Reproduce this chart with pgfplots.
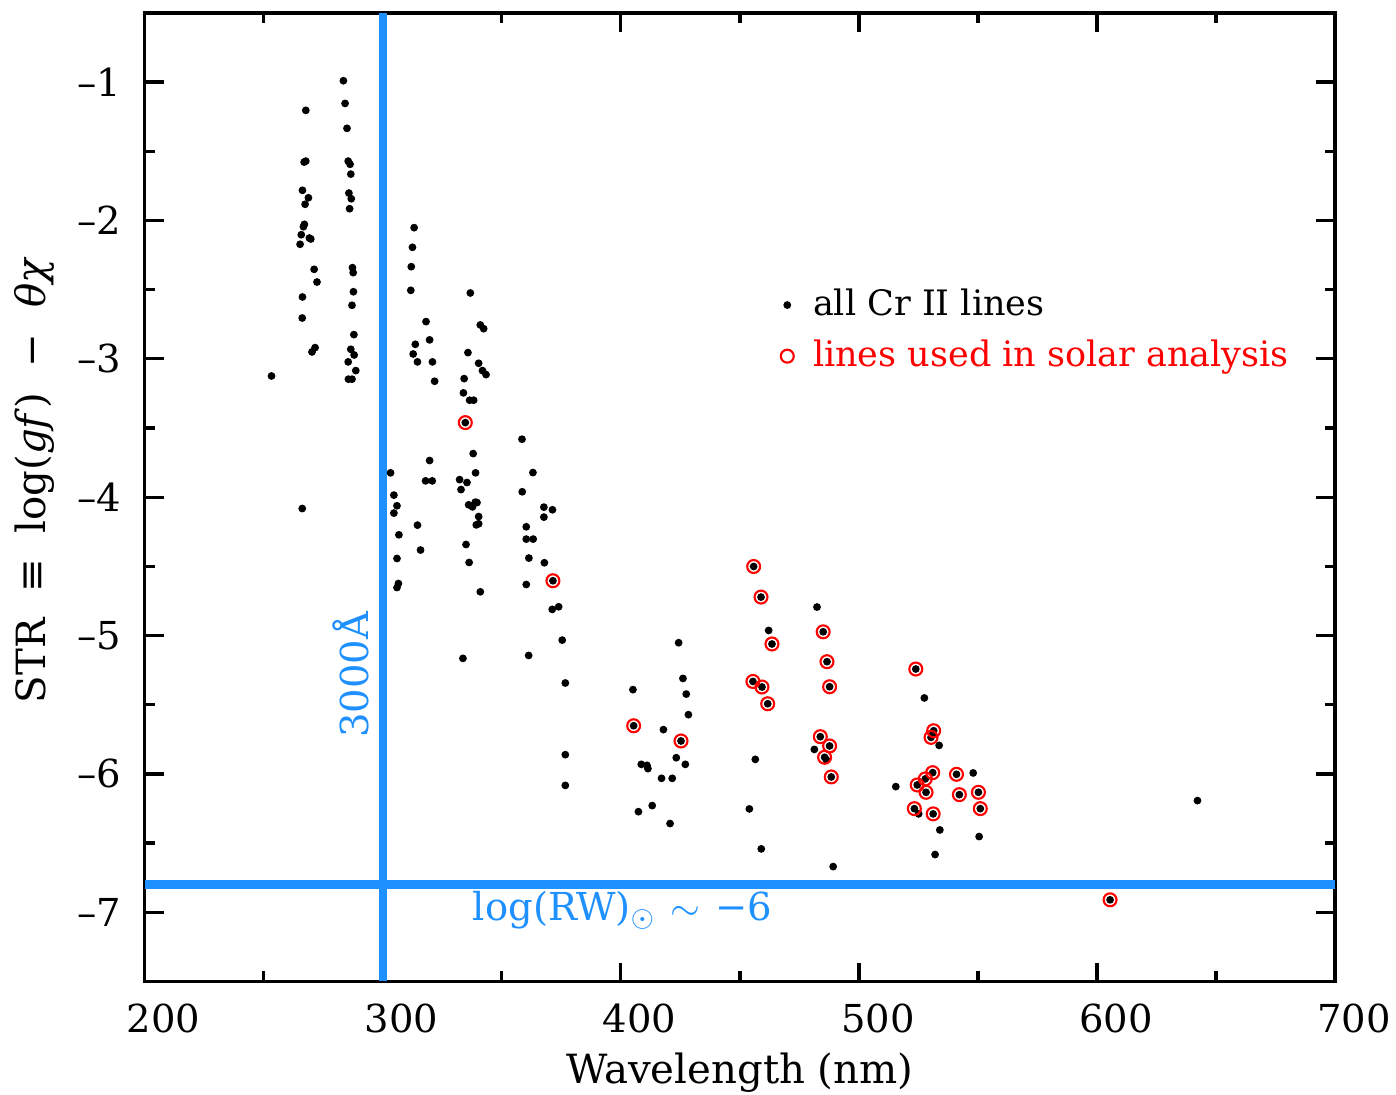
\documentclass[border=0pt]{standalone}
\usepackage{fontspec}
\setmainfont{DejaVu Serif}
\usepackage{pgfplots}
\pgfplotsset{compat=1.18}
\definecolor{dodger}{RGB}{30,144,255}

\begin{document}
\begin{tikzpicture}
\begin{axis}[
    scale only axis,
    width=340pt, height=276.6pt,
    xmin=200, xmax=700, ymin=-7.5, ymax=-0.5,
    axis line style={line width=0.95pt},
    major tick style={line width=0.95pt, black},
    minor tick style={line width=0.95pt, black},
    tick align=inside,
    major tick length=5.4pt, minor tick length=2.9pt,
    xtick={200,300,400,500,600,700},
    xticklabels={200,300,400,500,600,700},
    minor xtick={250,350,450,550,650},
    ytick={-7,-6,-5,-4,-3,-2,-1},
    yticklabels={--7,--6,--5,--4,--3,--2,--1},
    minor ytick={-6.5,-5.5,-4.5,-3.5,-2.5,-1.5},
    xticklabel style={font=\fontsize{11}{13}\selectfont, inner sep=0pt, anchor=center, yshift=-10.6pt, xshift=5.4pt},
    yticklabel style={font=\fontsize{11}{13}\selectfont, inner sep=0pt, anchor=east, xshift=-6.6pt},
    xlabel={Wavelength (nm)},
    ylabel={STR\ \ ≡\ \ log(\textit{gf})\ \ −\ \ \textit{θχ}},
    x label style={font=\fontsize{11.5}{13}\selectfont, at={(axis description cs:0.5,0)}, anchor=center, yshift=-26pt},
    y label style={font=\fontsize{11.5}{13}\selectfont, at={(axis description cs:-0.0924,0.5176)}, anchor=center},
    clip mode=individual,
    legend style={draw=none, fill=none, font=\fontsize{10}{12}\selectfont,
        at={(0.525,0.672)}, anchor=west, row sep=1.5pt},
    legend cell align=left,
]
% blue reference lines
\addplot[dodger, line width=2.4pt, forget plot] coordinates {(200,-6.8) (700,-6.8)};
\addplot[dodger, line width=2.4pt, forget plot] coordinates {(300,-7.5) (300,-0.5)};

% all Cr II lines
\addplot[only marks, mark=*, mark size=0.9pt, black] coordinates {
(283.5,-0.99) (284.2,-1.154) (267.7,-1.204) (285.0,-1.334) (267.0,-1.578)
(267.7,-1.571) (285.5,-1.571) (286.3,-1.594) (286.6,-1.665) (266.3,-1.782)
(268.8,-1.836) (267.4,-1.883) (285.8,-1.802) (286.8,-1.843) (286.1,-1.915)
(267.1,-2.028) (266.7,-2.045) (265.8,-2.103) (269.2,-2.127) (269.8,-2.134)
(265.3,-2.172) (271.2,-2.353) (272.4,-2.445) (266.3,-2.553) (266.2,-2.705)
(270.3,-2.950) (271.6,-2.919) (287.3,-2.341) (287.6,-2.377) (287.7,-2.515)
(287.1,-2.613) (287.9,-2.825) (286.6,-2.931) (288.0,-2.972) (285.5,-3.022)
(288.7,-3.085) (285.6,-3.147) (287.1,-3.147) (253.3,-3.124)
(313.2,-2.052) (312.5,-2.194) (312.0,-2.334) (311.8,-2.505) (336.8,-2.524)
(318.2,-2.731) (319.7,-2.863) (313.7,-2.895) (312.8,-2.965) (314.6,-3.022)
(320.9,-3.022) (321.8,-3.162) (341.0,-2.755) (342.4,-2.782) (335.8,-2.955)
(340.3,-3.032) (341.9,-3.085) (343.4,-3.114) (334.2,-3.143) (333.9,-3.246)
(336.5,-3.299) (338.2,-3.299)
(266.2,-4.082) (303.3,-3.824) (304.7,-3.985) (306.0,-4.062) (304.7,-4.115)
(306.8,-4.272) (306.0,-4.443) (306.0,-4.653) (306.6,-4.624) (314.6,-4.202)
(315.9,-4.382) (319.7,-3.735) (318.0,-3.882) (320.8,-3.882) (334.7,-3.461)
(338.0,-3.685) (339.0,-3.824) (332.3,-3.873) (335.4,-3.894) (332.9,-3.945)
(336.1,-4.055) (337.7,-4.070) (338.9,-4.036) (339.6,-4.039) (340.3,-4.140)
(339.3,-4.200) (340.3,-4.192) (335.0,-4.342) (336.3,-4.472) (341.0,-4.684)
(333.7,-5.165)
(358.5,-3.581) (363.1,-3.822) (358.6,-3.961) (367.7,-4.072) (371.3,-4.091)
(367.7,-4.144) (360.3,-4.214) (360.3,-4.303) (363.2,-4.303) (361.4,-4.440)
(367.9,-4.474) (360.3,-4.631) (371.5,-4.604) (371.2,-4.811) (373.9,-4.792)
(375.4,-5.033) (361.3,-5.144) (376.7,-5.343) (376.7,-5.861) (376.7,-6.083)
(424.3,-5.052) (426.1,-5.310) (427.5,-5.423) (428.4,-5.572) (405.1,-5.391)
(405.4,-5.652) (417.9,-5.680) (425.3,-5.762) (423.3,-5.883) (427.1,-5.931)
(408.6,-5.931) (411.0,-5.938) (411.4,-5.962) (417.1,-6.032) (421.6,-6.032)
(407.4,-6.273) (413.2,-6.229) (420.7,-6.359)
(455.8,-4.501) (458.9,-4.722) (482.4,-4.794) (462.1,-4.963) (485.0,-4.973)
(463.5,-5.061) (486.6,-5.189) (455.5,-5.332) (459.3,-5.372) (487.7,-5.370)
(461.7,-5.493) (483.8,-5.731) (487.7,-5.798) (481.3,-5.823) (485.6,-5.880)
(486.3,-5.897) (488.4,-6.022) (456.5,-5.895) (454.0,-6.253) (459.0,-6.542)
(489.2,-6.670)
(523.9,-5.242) (527.5,-5.451) (531.4,-5.688) (530.3,-5.736) (531.0,-5.712)
(533.7,-5.794) (531.0,-5.991) (541.0,-6.003) (548.0,-5.993) (527.9,-6.036)
(524.5,-6.080) (515.5,-6.092) (528.2,-6.133) (542.2,-6.150) (550.2,-6.133)
(551.0,-6.251) (523.3,-6.251) (525.1,-6.289) (531.2,-6.289) (534.0,-6.405)
(550.5,-6.453) (532.0,-6.583)
(642.2,-6.193) (605.5,-6.910)
};
\addlegendentry{\hspace{3.5pt}all Cr II lines}

% lines used in solar analysis
\addplot[only marks, mark=o, mark size=1.85pt, red, mark options={line width=0.6pt}] coordinates {
(334.7,-3.461) (371.5,-4.604) (405.4,-5.652) (425.3,-5.762)
(455.8,-4.501) (458.9,-4.722) (485.0,-4.973) (463.5,-5.061) (486.6,-5.189)
(455.5,-5.332) (459.3,-5.372) (487.7,-5.370) (461.7,-5.493) (483.8,-5.731)
(487.7,-5.798) (485.6,-5.880) (488.4,-6.022)
(523.9,-5.242) (531.4,-5.688) (530.3,-5.736) (531.0,-5.991) (541.0,-6.003)
(527.9,-6.036) (524.5,-6.080) (528.2,-6.133) (542.2,-6.150) (550.2,-6.133)
(551.0,-6.251) (523.3,-6.251) (531.2,-6.289)
(605.5,-6.910)
};
\addlegendentry{\hspace{3.5pt}\textcolor{red}{lines used in solar analysis}}

\node[dodger, rotate=90, anchor=base west, inner sep=0pt, font=\fontsize{11}{13}\selectfont]
    at (axis cs:293.9,-5.745) {3000Å};
\node[dodger, anchor=base west, inner sep=0pt, font=\fontsize{11}{13}\selectfont]
    at (axis cs:337.6,-7.06) {log(RW)$_{\odot}$\hspace{4.2pt}$\sim$\hspace{4.2pt}−6};
\end{axis}
\pgfresetboundingbox
\path[use as bounding box] ([shift={(-41.3pt,-32.3pt)}]current axis.south west)
    rectangle ([shift={(17.4pt,3.7pt)}]current axis.north east);
\end{tikzpicture}
\end{document}
